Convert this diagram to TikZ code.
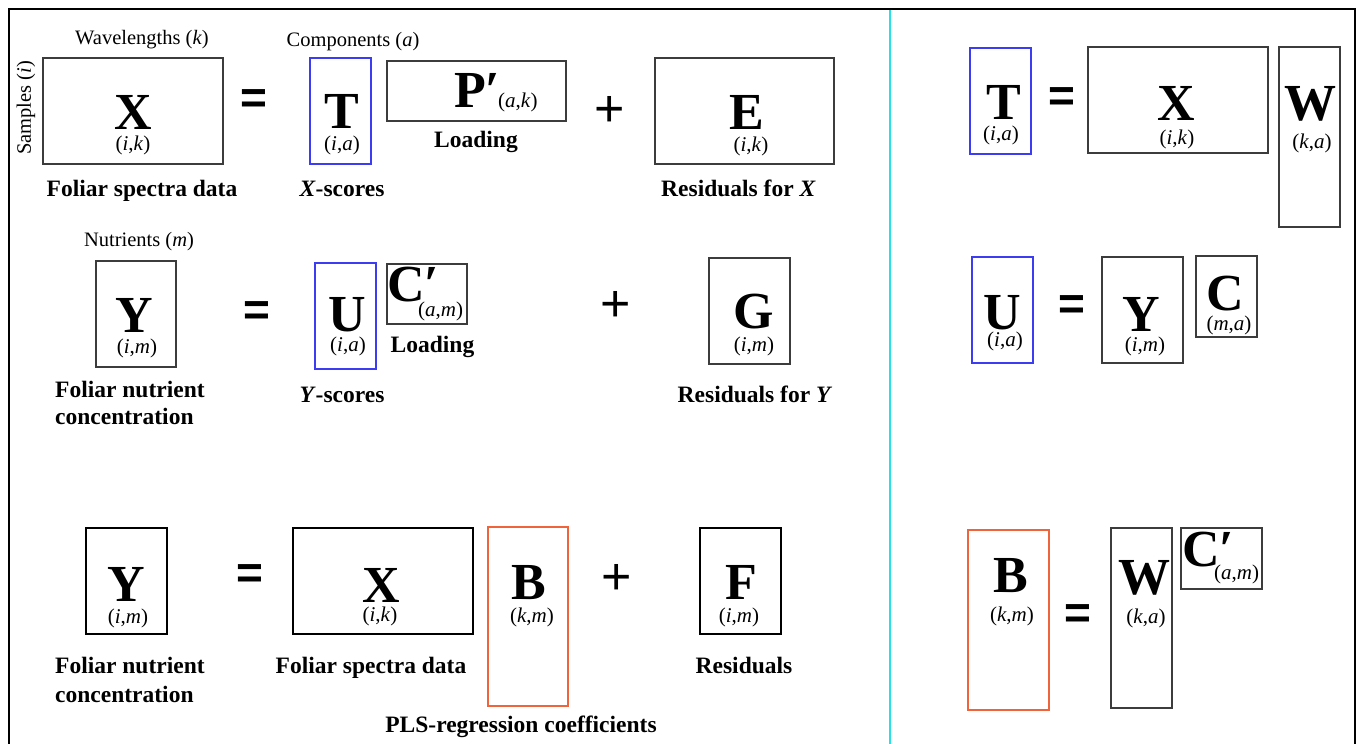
\documentclass[tikz,border=0pt]{standalone}
\usepackage{fontspec}
\setmainfont{Liberation Serif}
\newfontfamily\opfont{Liberation Sans}
\definecolor{boxblue}{RGB}{60,60,240}
\definecolor{boxorange}{RGB}{240,100,60}
\definecolor{divcyan}{RGB}{40,225,230}
\definecolor{boxgray}{RGB}{60,60,60}
\newcommand\mIdx[2]{(\textit{#1},\textit{#2})}
\tikzset{
  mbox/.style={draw=boxgray, line width=1.1pt, inner sep=0pt, rectangle},
  mboxk/.style={draw=black, line width=2pt, inner sep=0pt, rectangle},
  bbox/.style={draw=boxblue, line width=1.1pt, inner sep=0pt, rectangle},
  obox/.style={draw=boxorange, line width=2pt, inner sep=0pt, rectangle},
  oboxthin/.style={draw=boxorange, line width=1.2pt, inner sep=0pt, rectangle},
  big/.style={font=\fontsize{52}{52}\selectfont\bfseries, inner sep=0pt, anchor=base},
  idx/.style={font=\fontsize{21}{21}\selectfont, inner sep=0pt, anchor=base},
  lbl/.style={font=\fontsize{23.5}{28}\selectfont\bfseries, inner sep=0pt, anchor=base},
  axl/.style={font=\fontsize{20.5}{24}\selectfont, inner sep=0pt, anchor=base},
  eqop/.style={font=\opfont\bfseries\fontsize{46}{46}\selectfont, inner sep=0pt},
  plusop/.style={font=\opfont\fontsize{52}{52}\selectfont, inner sep=0pt},
}
\begin{document}
\begin{tikzpicture}[x=1pt,y=-1pt]
\useasboundingbox (0,0) rectangle (1361,744);
\fill[white] (0,0) rectangle (1361,744);
% frame and divider
\coordinate (fbl) at (9,744);
\coordinate (ftl) at (9,9);
\coordinate (ftr) at (1355,9);
\coordinate (fbr) at (1355,744);
\coordinate (dtop) at (890,9);
\coordinate (dbot) at (890,744);
\draw[divcyan, line width=2.5pt] (dtop) -- (dbot);
\draw[black, line width=2pt] (fbl) -- (ftl) -- (ftr) -- (fbr);

% ===== Row 1 =====
\node[axl] (wl) at (142,45) {Wavelengths (\textit{k})};
\node[axl, rotate=90, anchor=center] (sm) at (26,108) {Samples (\textit{i})};
\node[mbox, minimum width=180pt, minimum height=106pt] (Xb) at (133,111) {};
\node[big] (Xl) at (133,129) {X};
\node[idx] (Xi) at (133,150) {\mIdx{i}{k}};
\node[lbl] (Xd) at (142,196) {Foliar spectra data};
\node[eqop] (eq1) at (254,102) {=};
\node[axl] (cmp) at (353,46) {Components (\textit{a})};
\node[bbox, minimum width=61pt, minimum height=106pt] (Tb) at (340.5,111) {};
\node[big] (Tl) at (342,128) {T};
\node[idx] (Ti) at (342,150) {\mIdx{i}{a}};
\node[lbl] (Td) at (342,196) {\textit{X}-scores};
\node[mbox, minimum width=179pt, minimum height=60pt] (Pb) at (476.5,91) {};
\node[big, anchor=base west] (Pl) at (454,107) {P′};
\node[idx, anchor=base west] (Pi) at (498,107) {\mIdx{a}{k}};
\node[lbl] (Pd) at (476,147) {Loading};
\node[plusop] (pl1) at (610,111) {+};
\node[mbox, minimum width=179pt, minimum height=106pt] (Eb) at (744.5,111) {};
\node[big] (El) at (747,129) {E};
\node[idx] (Ei) at (751,151) {\mIdx{i}{k}};
\node[lbl] (Ed) at (738.5,196) {Residuals for \textit{X}};

% ===== Row 2 =====
\node[axl] (nu) at (139,246) {Nutrients (\textit{m})};
\node[mbox, minimum width=80pt, minimum height=106pt] (Yb2) at (136,314) {};
\node[big] (Yl2) at (134,332) {Y};
\node[idx] (Yi2) at (137,353) {\mIdx{i}{m}};
\node[lbl, anchor=base west] (Yd2a) at (55,397) {Foliar nutrient};
\node[lbl, anchor=base west] (Yd2b) at (55,424) {concentration};
\node[eqop] (eq2) at (257,314) {=};
\node[bbox, minimum width=61pt, minimum height=106pt] (Ub) at (345.5,316) {};
\node[big] (Ul) at (347,331) {U};
\node[idx] (Ui) at (348,351) {\mIdx{i}{a}};
\node[lbl] (Ud) at (342,402) {\textit{Y}-scores};
\node[mbox, minimum width=80pt, minimum height=60pt] (Cpb) at (427,294) {};
\node[big, anchor=base west] (Cpl) at (387,301) {C′};
\node[idx, anchor=base west] (Cpi) at (418,316) {\mIdx{a}{m}};
\node[lbl] (Cpd) at (432.5,352) {Loading};
\node[plusop] (pl2) at (616,306) {+};
\node[mbox, minimum width=81pt, minimum height=106pt] (Gb) at (749.5,311) {};
\node[big] (Gl) at (754,328) {G};
\node[idx] (Gi) at (754,351) {\mIdx{i}{m}};
\node[lbl] (Gd) at (755,402) {Residuals for \textit{Y}};

% ===== Row 3 =====
\node[mboxk, minimum width=81pt, minimum height=106pt] (Yb3) at (126.5,581) {};
\node[big] (Yl3) at (126,601) {Y};
\node[idx] (Yi3) at (128,623) {\mIdx{i}{m}};
\node[lbl, anchor=base west] (Yd3a) at (55,673) {Foliar nutrient};
\node[lbl, anchor=base west] (Yd3b) at (55,702) {concentration};
\node[eqop] (eq3) at (250,577) {=};
\node[mboxk, minimum width=180pt, minimum height=106pt] (Xb3) at (383,581) {};
\node[big] (Xl3) at (381,602) {X};
\node[idx] (Xi3) at (380,621) {\mIdx{i}{k}};
\node[lbl] (Xd3) at (371,673) {Foliar spectra data};
\node[obox, minimum width=80pt, minimum height=179pt] (Bb) at (528,616.5) {};
\node[big] (Bl) at (529,599) {B};
\node[idx] (Bi) at (532,622) {\mIdx{k}{m}};
\node[lbl] (Bd) at (521,732) {PLS-regression coefficients};
\node[plusop] (pl3) at (617,579) {+};
\node[mboxk, minimum width=81pt, minimum height=106pt] (Fb) at (740.5,581) {};
\node[big] (Fl) at (741,599) {F};
\node[idx] (Fi) at (739,622) {\mIdx{i}{m}};
\node[lbl] (Fd) at (744,673) {Residuals};

% ===== Right panel =====
\node[bbox, minimum width=61pt, minimum height=106pt] (rTb) at (1000.5,101) {};
\node[big] (rTl) at (1003.5,119) {T};
\node[idx] (rTi) at (1001,140) {\mIdx{i}{a}};
\node[eqop] (req1) at (1062,100) {=};
\node[mbox, minimum width=180pt, minimum height=106pt] (rXb) at (1178,100) {};
\node[big] (rXl) at (1176,120) {X};
\node[idx] (rXi) at (1177,144) {\mIdx{i}{k}};
\node[mbox, minimum width=61pt, minimum height=180pt] (rWb) at (1309.5,137) {};
\node[big] (rWl) at (1310,120) {W};
\node[idx] (rWi) at (1312,148) {\mIdx{k}{a}};

\node[bbox, minimum width=61pt, minimum height=106pt] (rUb) at (1002.5,310) {};
\node[big] (rUl) at (1002,329) {U};
\node[idx] (rUi) at (1005,346) {\mIdx{i}{a}};
\node[eqop] (req2) at (1072,308) {=};
\node[mbox, minimum width=81pt, minimum height=106pt] (rYb) at (1142.5,310) {};
\node[big] (rYl) at (1141,331) {Y};
\node[idx] (rYi) at (1145,351) {\mIdx{i}{m}};
\node[mbox, minimum width=61pt, minimum height=81pt] (rCb) at (1226.5,296.5) {};
\node[big] (rCl) at (1225,310) {C};
\node[idx] (rCi) at (1229,330) {\mIdx{m}{a}};

\node[oboxthin, minimum width=81pt, minimum height=180pt] (rBb) at (1008.5,620) {};
\node[big] (rBl) at (1010.5,592) {B};
\node[idx] (rBi) at (1012,621) {\mIdx{k}{m}};
\node[eqop] (req3) at (1078,617) {=};
\node[mbox, minimum width=61pt, minimum height=180pt] (rWb2) at (1141.5,618) {};
\node[big] (rWl2) at (1144,594) {W};
\node[idx] (rWi2) at (1146,623) {\mIdx{k}{a}};
\node[mbox, minimum width=81pt, minimum height=61pt] (rCpb) at (1221.5,558.5) {};
\node[big, anchor=base west] (rCpl) at (1182,566) {C′};
\node[idx, anchor=base west] (rCpi) at (1214,579) {\mIdx{a}{m}};
\end{tikzpicture}
\end{document}
